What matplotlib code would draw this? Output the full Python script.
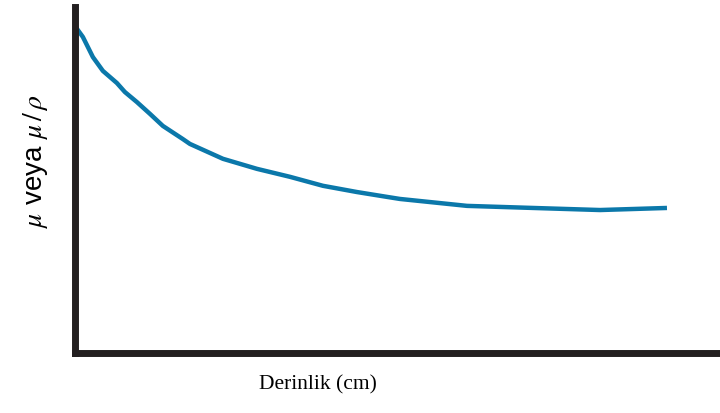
import matplotlib.pyplot as plt

plt.rcParams["font.family"] = ["Liberation Serif", "DejaVu Serif"]
plt.rcParams["mathtext.fontset"] = "stix"

# attenuation coefficient vs depth (arbitrary units)
depth = [0, 1.24, 2.79, 4.34, 6.51, 7.75, 9.61, 11.63, 13.64, 16.74, 17.83,
         22.95, 28.22, 33.33, 38.45, 43.72, 48.37, 50.39, 60.78, 71.01,
         81.40, 91.78]
mu = [94.5, 91.3, 85.5, 81.5, 78.0, 75.4, 72.5, 69.1, 65.6, 61.8, 60.4,
      56.1, 53.2, 50.9, 48.3, 46.5, 45.1, 44.5, 42.5, 41.9, 41.3, 41.9]

fig = plt.figure(figsize=(7.2, 4.14), dpi=100)
ax = fig.add_axes([0.104, 0.145, 0.896, 0.836])
ax.plot(depth, mu, color="#0b78aa", lw=3.2, solid_capstyle="butt",
        solid_joinstyle="round")
ax.set_xlim(0, 100)
ax.set_ylim(0, 100)
ax.set_xticks([])
ax.set_yticks([])
for side in ["top", "right"]:
    ax.spines[side].set_visible(False)
for side in ["left", "bottom"]:
    ax.spines[side].set_linewidth(5)
    ax.spines[side].set_color("#231f20")

fig.text(0.441, 0.07, "Derinlik (cm)", ha="center", va="center", fontsize=15.5)
fig.text(0.049, 0.611, r"$\mu$ veya $\mu\,/\,\rho$", ha="center", va="center",
         rotation=90, fontsize=20, family=["Liberation Sans", "DejaVu Sans"])

fig.savefig("out.png", dpi=100)
